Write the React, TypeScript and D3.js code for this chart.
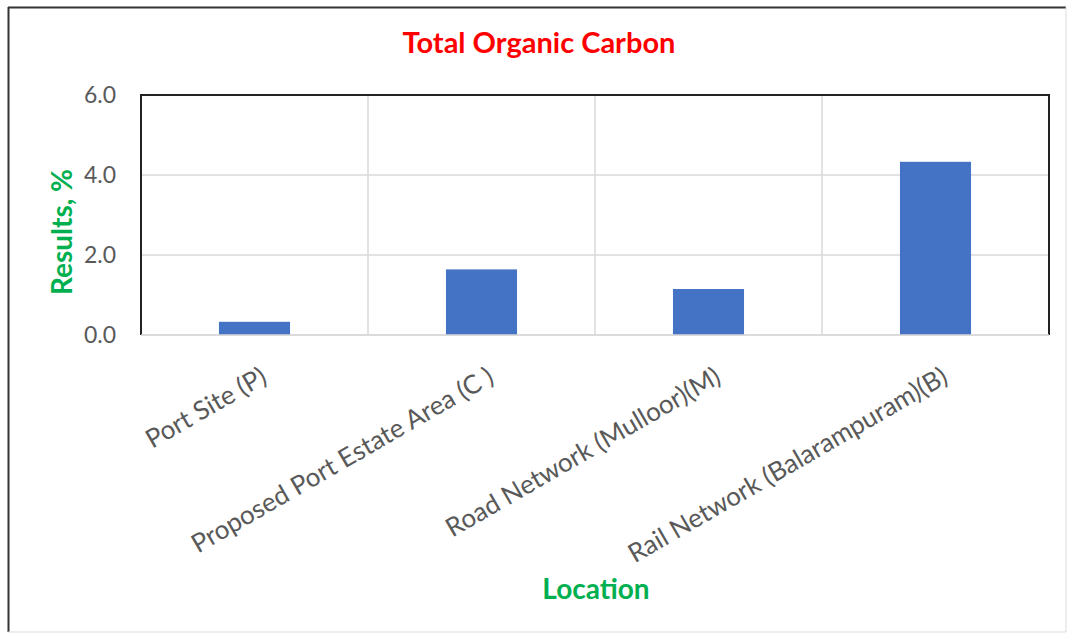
import React from "react";
import * as d3 from "d3";

const categories = [
  "Port Site (P)",
  "Proposed Port Estate Area (C )",
  "Road Network (Mulloor)(M)",
  "Rail Network (Balarampuram)(B)",
];
const values = [0.33, 1.64, 1.15, 4.33];
const yTicks = [0, 2, 4, 6];

const W = 1067;
const H = 634;
const M = { left: 141, right: 1049, top: 95, bottom: 335 };
const FONT = "Lato, 'Open Sans', sans-serif";

export default function App() {
  const x = d3
    .scaleBand<string>()
    .domain(categories)
    .range([M.left, M.right])
    .paddingInner(0.687)
    .paddingOuter(0.3435);
  const xOuter = d3.scaleBand<string>().domain(categories).range([M.left, M.right]);
  const y = d3.scaleLinear().domain([0, 6]).range([M.bottom, M.top]);

  return (
    <svg
      width={W}
      height={H}
      style={{ position: "absolute", left: 0, top: 0, background: "#fff" }}
    >
      <rect x={0} y={0} width={W} height={H} fill="#fff" />
      {/* outer border */}
      <line x1={8.5} y1={7} x2={8.5} y2={632} stroke="#333" strokeWidth={2} />
      <line x1={8} y1={7.5} x2={1066} y2={7.5} stroke="#333" strokeWidth={2} />
      <line x1={1066} y1={7} x2={1066} y2={632} stroke="#ddd" strokeWidth={1} />
      <line x1={8} y1={632} x2={1066} y2={632} stroke="#ddd" strokeWidth={1} />

      {/* title */}
      <text
        x={539}
        y={53}
        textAnchor="middle"
        fill="#ff0000"
        fontFamily={FONT}
        fontWeight="bold"
        fontSize={29}
      >
        Total Organic Carbon
      </text>

      {/* gridlines horizontal */}
      {yTicks.map((t) => (
        <line
          key={"g" + t}
          x1={M.left}
          x2={M.right}
          y1={y(t)}
          y2={y(t)}
          stroke="#d9d9d9"
          strokeWidth={1.5}
        />
      ))}
      {/* vertical gridlines at category boundaries */}
      {categories.slice(1).map((c) => (
        <line
          key={"v" + c}
          x1={xOuter(c)!}
          x2={xOuter(c)!}
          y1={M.top}
          y2={M.bottom}
          stroke="#d9d9d9"
          strokeWidth={1.5}
        />
      ))}

      {/* bars */}
      {categories.map((c, i) => (
        <rect
          key={c}
          x={x(c)!}
          y={y(values[i])}
          width={x.bandwidth()}
          height={y(0) - y(values[i])}
          fill="#4472c4"
        />
      ))}

      {/* plot border */}
      <path
        d={`M${M.left},${M.bottom}V${M.top}H${M.right}V${M.bottom}`}
        fill="none"
        stroke="#222"
        strokeWidth={2}
      />
      <line x1={M.left} x2={M.right} y1={M.bottom} y2={M.bottom} stroke="#d9d9d9" strokeWidth={1.5} />

      {/* y tick labels */}
      {yTicks.map((t) => (
        <text
          key={"t" + t}
          x={116}
          y={y(t)}
          dy="0.35em"
          textAnchor="end"
          fill="#595959"
          fontFamily={FONT}
          fontSize={23}
        >
          {d3.format(".1f")(t)}
        </text>
      ))}

      {/* y axis label */}
      <text
        transform={`translate(72,${232}) rotate(-90)`}
        textAnchor="middle"
        fill="#00b050"
        fontFamily={FONT}
        fontWeight="bold"
        fontSize={28}
      >
        Results, %
      </text>

      {/* x labels */}
      {categories.map((c) => {
        const cx = xOuter(c)! + xOuter.bandwidth() / 2 + 5;
        return (
          <text
            key={"l" + c}
            transform={`translate(${cx},${366}) rotate(-30)`}
            textAnchor="end"
            dy="0.7em"
            fill="#595959"
            fontFamily={FONT}
            fontSize={26}
          >
            {c}
          </text>
        );
      })}

      {/* x axis title */}
      <text
        x={596}
        y={599}
        textAnchor="middle"
        fill="#00b050"
        fontFamily={FONT}
        fontWeight="bold"
        fontSize={28}
      >
        Location
      </text>
    </svg>
  );
}
